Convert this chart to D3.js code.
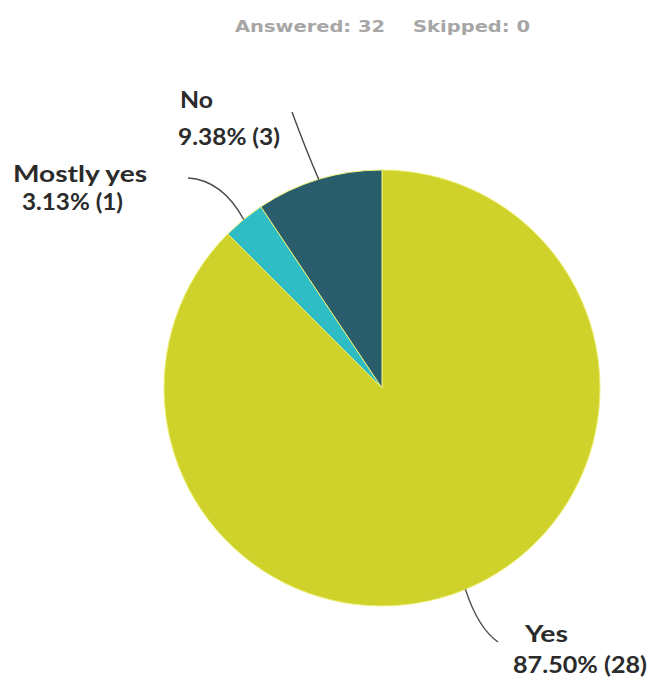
<!DOCTYPE html>
<html>
<head>
<meta charset="utf-8">
<script src="https://cdn.jsdelivr.net/npm/d3@7"></script>
<style>
  html, body { margin: 0; padding: 0; background: #fff; }
  svg { display: block; }
</style>
</head>
<body>
<div id="chart"></div>
<script>
const categories = ["Yes", "Mostly yes", "No"];
const counts = [28, 1, 3];
const percents = ["87.50%", "3.13%", "9.38%"];
const answered = 32;
const skipped = 0;

const W = 649, H = 681;
const cx = 382, cy = 388, R = 218;
const colors = ["#cfd22b", "#2ebdc4", "#2a5d6b"];

const svg = d3.select("#chart").append("svg").attr("width", W).attr("height", H);

// header
const head = svg.append("text")
  .attr("y", 32)
  .attr("font-family", "DejaVu Sans, Verdana, sans-serif")
  .attr("font-weight", "bold")
  .attr("font-size", 15.5)
  .attr("fill", "#a6a6a6");
head.append("tspan").attr("x", 235).attr("textLength", 150).attr("lengthAdjust", "spacingAndGlyphs").text(`Answered: ${answered}`);
head.append("tspan").attr("x", 413).attr("textLength", 117).attr("lengthAdjust", "spacingAndGlyphs").text(`Skipped: ${skipped}`);

const pie = d3.pie().sort(null).value(d => d.count);
const data = categories.map((c, i) => ({ cat: c, count: counts[i], pct: percents[i], color: colors[i] }));
const arcs = pie(data);
const arc = d3.arc().innerRadius(0).outerRadius(R);

const g = svg.append("g").attr("transform", `translate(${cx},${cy})`);
g.selectAll("path.slice").data(arcs).enter().append("path")
  .attr("class", "slice")
  .attr("d", arc)
  .attr("fill", d => d.data.color)
  .attr("stroke", "#eef07a")
  .attr("stroke-width", 1);

// leader lines and labels (layout offsets)
const layout = {
  "Yes":        { end: [498, 642], ctrl: [478, 628], lx: 525, ly1: 642, lx2: 513, ly2: 673, w1: 43, w2: 134 },
  "Mostly yes": { end: [188, 178], ctrl: [222, 180], lx: 13,  ly1: 182, lx2: 22,  ly2: 210, w1: 134, w2: 101 },
  "No":         { end: [292, 112], ctrl: [306, 150], lx: 180, ly1: 108, lx2: 178, ly2: 145, w1: 33, w2: 102 }
};

arcs.forEach(a => {
  const L = layout[a.data.cat];
  const mid = (a.startAngle + a.endAngle) / 2;
  const sx = cx + R * Math.sin(mid), sy = cy - R * Math.cos(mid);
  const p = d3.path();
  p.moveTo(sx, sy);
  p.quadraticCurveTo(L.ctrl[0], L.ctrl[1], L.end[0], L.end[1]);
  svg.append("path").attr("d", p.toString())
    .attr("fill", "none").attr("stroke", "#4a4a4a").attr("stroke-width", 1.4);

  const t = svg.append("g")
    .attr("font-family", "Lato, Carlito, sans-serif")
    .attr("font-weight", "bold")
    .attr("fill", "#2b2b2b");
  t.append("text").attr("x", L.lx).attr("y", L.ly1).attr("font-size", 23)
    .attr("textLength", L.w1).attr("lengthAdjust", "spacingAndGlyphs")
    .text(a.data.cat);
  t.append("text").attr("x", L.lx2).attr("y", L.ly2).attr("font-size", 23)
    .attr("textLength", L.w2).attr("lengthAdjust", "spacingAndGlyphs")
    .text(`${a.data.pct} (${a.data.count})`);
});
</script>
</body>
</html>
